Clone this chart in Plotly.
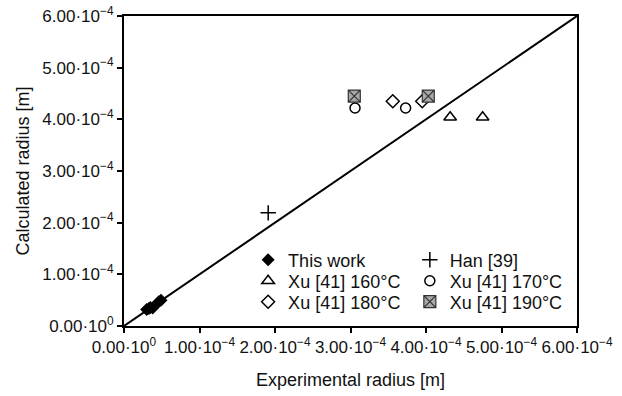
import plotly.graph_objects as go

# Data (m)
this_x = [3.0e-5, 3.3e-5, 3.5e-5, 3.8e-5, 4.6e-5, 4.9e-5]
this_y = [3.2e-5, 3.4e-5, 3.6e-5, 3.5e-5, 4.7e-5, 5.0e-5]
han_x = [1.91e-4]
han_y = [2.19e-4]
xu160_x = [4.32e-4, 4.75e-4]
xu160_y = [4.04e-4, 4.04e-4]
xu170_x = [3.06e-4, 3.73e-4]
xu170_y = [4.22e-4, 4.22e-4]
xu180_x = [3.56e-4, 3.95e-4]
xu180_y = [4.35e-4, 4.35e-4]
xu190_x = [3.05e-4, 4.03e-4]
xu190_y = [4.45e-4, 4.45e-4]
line_x = [0, 6e-4]
line_y = [0, 6e-4]

tick_vals = [0, 1e-4, 2e-4, 3e-4, 4e-4, 5e-4, 6e-4]
tick_text = ["0.00·10<sup>0</sup>", "1.00·10<sup>−4</sup>", "2.00·10<sup>−4</sup>",
             "3.00·10<sup>−4</sup>", "4.00·10<sup>−4</sup>", "5.00·10<sup>−4</sup>",
             "6.00·10<sup>−4</sup>"]

FONT = "Liberation Sans, Arial, sans-serif"
TXT = "#111111"

fig = go.Figure()
fig.add_trace(go.Scatter(x=line_x, y=line_y, mode="lines",
                         line=dict(color="black", width=2), showlegend=False,
                         hoverinfo="skip"))
fig.add_trace(go.Scatter(x=this_x, y=this_y, mode="markers", name="This work",
                         marker=dict(symbol="diamond", size=10, color="black"),
                         legend="legend"))
fig.add_trace(go.Scatter(x=han_x, y=han_y, mode="markers", name="Han [39]",
                         marker=dict(symbol="cross-thin", size=11,
                                     line=dict(color="black", width=1.5)),
                         legend="legend2"))
fig.add_trace(go.Scatter(x=xu160_x, y=xu160_y, mode="markers", name="Xu [41] 160°C",
                         marker=dict(symbol="triangle-up-open", size=11, color="black",
                                     line=dict(width=1.5)),
                         legend="legend3"))
fig.add_trace(go.Scatter(x=xu170_x, y=xu170_y, mode="markers", name="Xu [41] 170°C",
                         marker=dict(symbol="circle-open", size=10, color="black",
                                     line=dict(width=1.5)),
                         legend="legend4"))
fig.add_trace(go.Scatter(x=xu180_x, y=xu180_y, mode="markers", name="Xu [41] 180°C",
                         marker=dict(symbol="diamond-open", size=10, color="black",
                                     line=dict(width=1.5)),
                         legend="legend5"))
fig.add_trace(go.Scatter(x=xu190_x, y=xu190_y, mode="markers", name="Xu [41] 190°C",
                         marker=dict(symbol="square-x", size=12, color="#a8a8a8",
                                     line=dict(color="#333333", width=1.2)),
                         legend="legend6"))

axis_common = dict(
    range=[0, 6e-4], tickvals=tick_vals, ticktext=tick_text,
    showgrid=False, zeroline=False, showline=True, linecolor="black", linewidth=2,
    mirror=True, ticks="outside", ticklen=5, tickwidth=1.5, tickcolor="black",
    tickangle=0, ticklabeloverflow="allow", automargin=False,
    tickfont=dict(family=FONT, size=17, color=TXT),
)

def leg(x, yc):
    return dict(x=x, y=yc, xanchor="left", yanchor="middle", bgcolor="rgba(0,0,0,0)",
                font=dict(family=FONT, size=18, color=TXT), tracegroupgap=0,
                itemsizing="trace")

col1 = 0.274
col2 = 0.631
rows = [(326 - 260) / 310, (326 - 281) / 310, (326 - 302) / 310]

fig.update_layout(
    width=622, height=396,
    margin=dict(l=124, r=45, t=16, b=70),
    paper_bgcolor="white", plot_bgcolor="white",
    font=dict(family=FONT, size=18, color=TXT),
    xaxis=dict(axis_common, title=dict(text="Experimental radius [m]", font=dict(size=18), standoff=17)),
    yaxis=dict(axis_common, title=dict(text="Calculated radius [m]", font=dict(size=18), standoff=8)),
    legend=leg(col1, rows[0]),
    legend2=leg(col2, rows[0]),
    legend3=leg(col1, rows[1]),
    legend4=leg(col2, rows[1]),
    legend5=leg(col1, rows[2]),
    legend6=leg(col2, rows[2]),
)

fig.write_html("out.html", config={"displayModeBar": False},
               post_script="document.body.style.margin='0';")
